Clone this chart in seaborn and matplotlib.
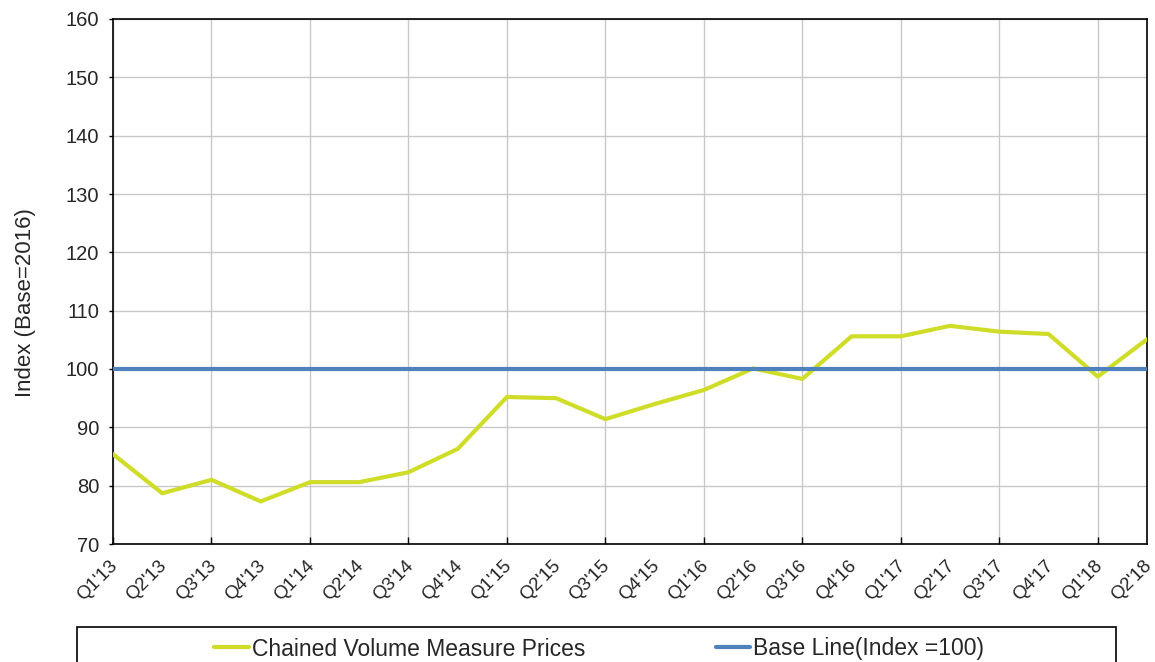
import matplotlib
matplotlib.use("Agg")
import matplotlib.pyplot as plt
import seaborn as sns
from matplotlib.patches import Rectangle
from matplotlib.transforms import ScaledTranslation

quarters = [
    "Q1'13", "Q2'13", "Q3'13", "Q4'13", "Q1'14", "Q2'14", "Q3'14", "Q4'14",
    "Q1'15", "Q2'15", "Q3'15", "Q4'15", "Q1'16", "Q2'16", "Q3'16", "Q4'16",
    "Q1'17", "Q2'17", "Q3'17", "Q4'17", "Q1'18", "Q2'18",
]
cvm_prices = [
    85.4, 78.7, 81.0, 77.3, 80.6, 80.6, 82.3, 86.3,
    95.2, 95.0, 91.4, 94.0, 96.4, 100.1, 98.3, 105.6,
    105.6, 107.4, 106.4, 106.0, 98.7, 105.1,
]
baseline = 100
y_ticks = [70, 80, 90, 100, 110, 120, 130, 140, 150, 160]

sns.set_style("white")
plt.rcParams["font.family"] = ["Liberation Sans", "DejaVu Sans"]

fig = plt.figure(figsize=(11.55, 6.62), dpi=100)
ax = fig.add_axes([113 / 1155, 1 - 544 / 662, (1147 - 113) / 1155, (544 - 19) / 662])

pos = list(range(len(quarters)))
sns.lineplot(x=pos, y=cvm_prices, ax=ax, color="#cfdd28", lw=3.0, sort=False,
             zorder=3, label="Chained Volume Measure Prices")
ax.axhline(baseline, color="#4f81bd", lw=3.0, zorder=4, label="Base Line(Index =100)")

ax.set_xlim(0, len(quarters) - 1)
ax.set_ylim(70, 160)
ax.set_yticks(y_ticks)
ax.tick_params(axis="y", labelsize=14.5, length=3, width=1, color="black",
               direction="out", left=True, pad=7)

ax.xaxis.remove_overlapping_locs = False
ax.set_xticks(pos)
ax.set_xticklabels(quarters, rotation=45, ha="right", rotation_mode="anchor")
ax.tick_params(axis="x", which="major", length=0, labelsize=13.5, pad=8)
ax.set_xticks(pos[::2], minor=True)
ax.tick_params(axis="x", which="minor", length=5, width=1, direction="in",
               bottom=True, color="black")
shift = ScaledTranslation(-4 / 100, -2 / 100, fig.dpi_scale_trans)
for lbl in ax.get_xticklabels():
    lbl.set_transform(lbl.get_transform() + shift)

ax.grid(axis="y", which="major", color="#c8c8c8", lw=1)
ax.grid(axis="x", which="minor", color="#c8c8c8", lw=1)
ax.set_axisbelow(True)
for s in ax.spines.values():
    s.set_visible(True)
    s.set_color("black")
    s.set_linewidth(1.2)

ax.set_ylabel("Index (Base=2016)", fontsize=16)
ax.yaxis.set_label_coords(-0.0745, 0.459)
ax.set_xlabel("")

# legend box below the chart
handles, labels = ax.get_legend_handles_labels()
order = [labels.index("Chained Volume Measure Prices"), labels.index("Base Line(Index =100)")]
ax.legend([handles[i] for i in order], [labels[i] for i in order],
          ncol=2, frameon=False, fontsize=16.5, handlelength=1.5, handletextpad=0.12,
          columnspacing=5.7, loc="center", bbox_to_anchor=(599 / 1155, 1 - 649 / 662),
          bbox_transform=fig.transFigure)
fig.patches.append(Rectangle((77 / 1155, -0.05), (1116 - 77) / 1155, 0.05 + (662 - 627) / 662,
                             transform=fig.transFigure, fill=False, edgecolor="black", lw=1.2))

fig.savefig("out.png", dpi=100)
